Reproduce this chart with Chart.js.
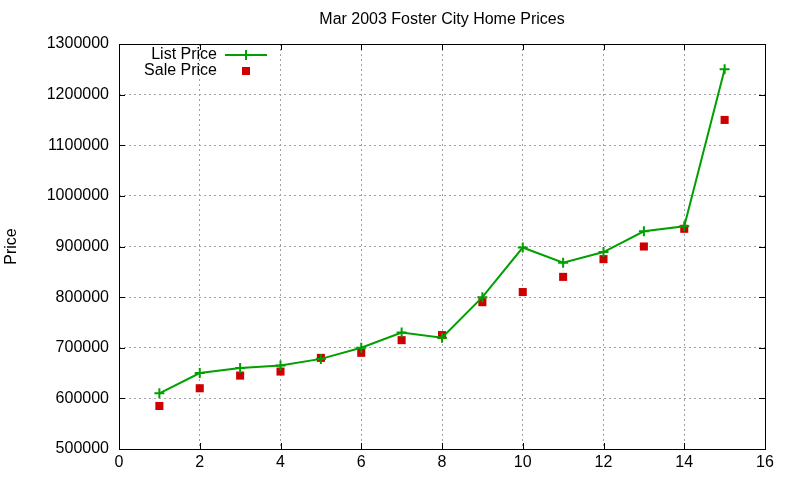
<!DOCTYPE html>
<html>
<head>
<meta charset="utf-8">
<script src="https://cdn.jsdelivr.net/npm/chart.js@4.4.0/dist/chart.umd.min.js"></script>
<style>
  html, body { margin: 0; padding: 0; background: #fff; }
  #wrap { width: 800px; height: 480px; }
</style>
</head>
<body>
<div id="wrap"><canvas id="priceChart" width="800" height="480"></canvas></div>
<script>
// data
const houses = [1, 2, 3, 4, 5, 6, 7, 8, 9, 10, 11, 12, 13, 14, 15];
const listPrice = [610000, 650000, 660000, 665000, 678000, 700000, 730000, 720000, 800000, 898000, 868000, 889000, 930000, 940000, 1250000];
const salePrice = [585000, 620000, 645000, 653000, 680000, 690000, 715000, 725000, 790000, 810000, 840000, 875000, 900000, 935000, 1150000];
const xTicks = [0, 2, 4, 6, 8, 10, 12, 14, 16];
const yTicks = [500000, 600000, 700000, 800000, 900000, 1000000, 1100000, 1200000, 1300000];

const FONT = '"Liberation Sans", Arial, sans-serif';
const GREEN = '#00a000';
const RED = '#cc0000';

// gnuplot-ish frame: border, inward ticks on all sides, title, y label, legend
const framePlugin = {
    id: 'frame',
    afterDraw(chart) {
        const ctx = chart.ctx;
        const a = chart.chartArea;
        const xs = chart.scales.x, ys = chart.scales.y;
        ctx.save();
        ctx.strokeStyle = '#000';
        ctx.lineWidth = 1;
        ctx.strokeRect(a.left + 0.5, a.top + 0.5, a.right - a.left, a.bottom - a.top);
        ctx.beginPath();
        xTicks.forEach(v => {
            const px = Math.round(xs.getPixelForValue(v)) + 0.5;
            ctx.moveTo(px, a.bottom); ctx.lineTo(px, a.bottom - 6);
            ctx.moveTo(px, a.top); ctx.lineTo(px, a.top + 6);
        });
        yTicks.forEach(v => {
            const py = Math.round(ys.getPixelForValue(v)) + 0.5;
            ctx.moveTo(a.left, py); ctx.lineTo(a.left + 6, py);
            ctx.moveTo(a.right, py); ctx.lineTo(a.right - 6, py);
        });
        ctx.stroke();

        ctx.fillStyle = '#000';
        ctx.font = '16px ' + FONT;
        ctx.textAlign = 'center';
        ctx.textBaseline = 'middle';
        ctx.fillText('Mar 2003 Foster City Home Prices', (a.left + a.right) / 2, 20);

        ctx.save();
        ctx.translate(12, (a.top + a.bottom) / 2);
        ctx.rotate(-Math.PI / 2);
        ctx.font = '16px ' + FONT;
        ctx.fillText('Price', 0, 0);
        ctx.restore();

        // legend
        ctx.font = '16px ' + FONT;
        ctx.textAlign = 'right';
        ctx.fillText(chart.data.datasets[0].label, 217, 55);
        ctx.fillText(chart.data.datasets[1].label, 217, 71);
        ctx.strokeStyle = GREEN;
        ctx.lineWidth = 2;
        ctx.beginPath();
        ctx.moveTo(225, 55); ctx.lineTo(267, 55);
        ctx.moveTo(246, 50); ctx.lineTo(246, 60);
        ctx.stroke();
        ctx.fillStyle = RED;
        ctx.fillRect(242, 67, 8, 8);
        ctx.restore();
    }
};

new Chart(document.getElementById('priceChart'), {
    type: 'scatter',
    data: {
        datasets: [{
            label: 'List Price',
            data: houses.map((h, i) => ({ x: h, y: listPrice[i] })),
            showLine: true,
            borderColor: GREEN,
            backgroundColor: GREEN,
            borderWidth: 2,
            pointStyle: 'cross',
            pointRadius: 5,
            pointBorderWidth: 2,
            tension: 0
        },
        {
            label: 'Sale Price',
            data: houses.map((h, i) => ({ x: h, y: salePrice[i] })),
            showLine: false,
            borderColor: RED,
            backgroundColor: RED,
            pointStyle: 'rect',
            pointRadius: 5.7,
            pointBorderWidth: 0
        }]
    },
    options: {
        responsive: false,
        animation: false,
        layout: { padding: { top: 44, right: 35, left: 0, bottom: 0 } },
        plugins: {
            legend: { display: false },
            title: { display: false },
            tooltip: { enabled: false }
        },
        scales: {
            x: {
                type: 'linear',
                min: 0,
                max: 16,
                afterBuildTicks: s => { s.ticks = xTicks.map(v => ({ value: v })); },
                afterFit: s => { s.height = 31; },
                border: { display: false, dash: [2, 3] },
                grid: {
                    color: ctx => (ctx.tick.value === 0 || ctx.tick.value === 16) ? 'rgba(0,0,0,0)' : '#a0a0a0',
                    lineWidth: 1,
                    drawTicks: false
                },
                ticks: { color: '#000', font: { family: FONT, size: 16 }, padding: 4, maxRotation: 0 }
            },
            y: {
                type: 'linear',
                min: 500000,
                max: 1300000,
                afterBuildTicks: s => { s.ticks = yTicks.map(v => ({ value: v })); },
                afterFit: s => { s.width = 119; },
                border: { display: false, dash: [2, 3] },
                grid: {
                    color: ctx => (ctx.tick.value === 500000 || ctx.tick.value === 1300000) ? 'rgba(0,0,0,0)' : '#a0a0a0',
                    lineWidth: 1,
                    drawTicks: false
                },
                ticks: {
                    color: '#000',
                    font: { family: FONT, size: 16 },
                    padding: 10,
                    callback: v => String(v)
                }
            }
        }
    },
    plugins: [framePlugin]
});
</script>
</body>
</html>
